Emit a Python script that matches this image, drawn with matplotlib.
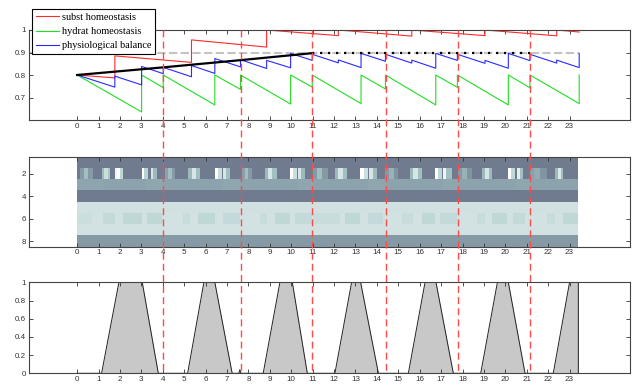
import matplotlib
matplotlib.use('Agg')
import matplotlib.pyplot as plt
import matplotlib.transforms as mtransforms
from matplotlib.lines import Line2D

# ---- top panel: homeostasis traces (sawtooth vertices)
subst_t = [0, 1.76, 1.76, 5.34, 5.34, 8.85, 8.85, 12.2, 12.2, 15.63, 15.63,
           19.05, 19.05, 22.4, 22.4, 23.45]
subst_v = [0.800, 0.787, 0.885, 0.856, 0.956, 0.924, 1.0, 0.975, 1.0, 0.973, 1.0,
           0.975, 1.0, 0.974, 1.0, 0.991]

hydrat_t = [0, 3.01, 3.01, 4.02, 4.02, 6.43, 6.43, 7.63, 7.63, 9.97, 9.97,
            10.98, 10.98, 13.26, 13.26, 14.40, 14.40, 16.75, 16.75, 17.76, 17.76,
            20.14, 20.14, 21.15, 21.15, 23.45, 23.45]
hydrat_v = [0.800, 0.636, 0.800, 0.744, 0.800, 0.667, 0.800, 0.736, 0.800, 0.671, 0.800,
            0.746, 0.800, 0.673, 0.800, 0.738, 0.800, 0.667, 0.800, 0.745, 0.800,
            0.667, 0.800, 0.743, 0.800, 0.673, 0.800]

balance_t = [0, 1.76, 1.76, 3.01, 3.01, 4.02, 4.02, 5.34, 5.34, 6.43, 6.43,
             7.63, 7.63, 8.85, 8.85, 9.97, 9.97, 10.98, 10.98, 12.2, 12.2,
             13.26, 13.26, 14.40, 14.40, 15.63, 15.63, 16.75, 16.75, 17.76, 17.76,
             19.05, 19.05, 20.14, 20.14, 21.15, 21.15, 22.4, 22.4, 23.45, 23.45]
balance_v = [0.800, 0.746, 0.795, 0.756, 0.838, 0.806, 0.834, 0.792, 0.842, 0.807, 0.873,
             0.836, 0.868, 0.829, 0.865, 0.832, 0.896, 0.865, 0.892, 0.854, 0.867,
             0.833, 0.896, 0.861, 0.892, 0.853, 0.866, 0.830, 0.896, 0.865, 0.892,
             0.852, 0.865, 0.830, 0.896, 0.864, 0.892, 0.853, 0.866, 0.833, 0.896]

# black target curve, then its dotted hold
target_t = [0, 4.02, 7.63, 10.98]
target_v = [0.800, 0.834, 0.866, 0.897]
hold_t = [10.98, 21.15]
hold_v = [0.897, 0.897]

# grey dashed set point
setpoint_t = [-2.25, 23.45]
setpoint_v = [0.897, 0.897]

# red dashed event markers (span all three panels)
event_x = [4.02, 7.63, 10.98, 14.43, 17.78, 21.15]

# ---- middle panel: 8-row heat strip (bone colormap values)
heat_end = 23.41
row_base = [0.50, 0.50, 0.625, 0.50, 0.865, 0.87, 0.87, 0.60]
row2_patches = [
    (0.13, 0.30, 0.60), (0.30, 0.50, 0.72), (0.50, 0.73, 0.60),
    (1.14, 1.25, 0.70), (1.25, 1.42, 0.85), (1.42, 1.53, 0.75),
    (1.76, 1.84, 0.95), (1.84, 2.00, 1.00), (2.00, 2.15, 0.82),
    (3.01, 3.14, 1.00), (3.14, 3.32, 0.80),
    (3.44, 3.56, 0.88), (3.56, 3.71, 0.70),
    (4.10, 4.25, 0.62), (4.25, 4.42, 0.72), (4.42, 4.56, 0.60),
    (5.19, 5.35, 0.70), (5.35, 5.55, 0.88), (5.55, 5.73, 0.72),
    (6.43, 6.58, 1.00), (6.58, 6.75, 0.85),
    (6.82, 6.95, 0.88), (6.95, 7.13, 0.72),
    (7.68, 7.85, 0.62), (7.85, 8.00, 0.72), (8.00, 8.15, 0.60),
    (8.77, 8.92, 0.70), (8.92, 9.12, 0.88), (9.12, 9.32, 0.72),
    (9.94, 10.08, 1.00), (10.08, 10.25, 0.85),
    (10.30, 10.45, 0.88), (10.45, 10.64, 0.70),
    (11.03, 11.20, 0.60), (11.20, 11.45, 0.72), (11.45, 11.73, 0.60),
    (12.04, 12.20, 0.70), (12.20, 12.42, 0.88), (12.42, 12.59, 0.72),
    (13.21, 13.40, 1.00), (13.40, 13.60, 0.85),
    (13.64, 13.80, 0.88), (13.80, 13.99, 0.70),
    (14.38, 14.55, 0.60), (14.55, 14.80, 0.68), (14.80, 15.00, 0.58),
    (15.55, 15.70, 0.70), (15.70, 15.92, 0.88), (15.92, 16.09, 0.72),
    (16.71, 16.86, 1.00), (16.86, 17.03, 0.82),
    (17.10, 17.25, 0.95), (17.25, 17.50, 0.72),
    (17.80, 17.98, 0.60), (17.98, 18.20, 0.68), (18.20, 18.43, 0.58),
    (18.90, 19.05, 0.70), (19.05, 19.22, 0.88), (19.22, 19.36, 0.70),
    (20.11, 20.27, 1.00), (20.27, 20.45, 0.82),
    (20.53, 20.68, 0.92), (20.68, 20.84, 0.72),
    (21.15, 21.35, 0.62), (21.35, 21.60, 0.66), (21.60, 21.93, 0.58),
    (22.32, 22.48, 0.70), (22.48, 22.60, 0.90), (22.60, 22.71, 0.72),
]
row3_patches = [
    (0.00, 1.20, 0.635), (3.20, 4.00, 0.64), (6.80, 7.60, 0.64), (10.30, 11.00, 0.64),
    (13.60, 14.40, 0.64), (17.10, 17.80, 0.64), (20.50, 21.15, 0.64),
]
row6_patches = [
    (0.05, 0.67, 0.85), (1.21, 1.76, 0.83), (2.15, 3.01, 0.82), (3.24, 3.94, 0.82),
    (4.95, 5.27, 0.84), (5.65, 6.43, 0.82), (6.82, 7.60, 0.83), (8.54, 8.85, 0.84),
    (9.24, 9.94, 0.82), (10.17, 10.95, 0.83), (11.03, 11.80, 0.84), (11.80, 12.28, 0.84),
    (12.51, 13.21, 0.82), (13.60, 14.30, 0.83), (15.16, 15.70, 0.84), (16.09, 16.71, 0.82),
    (16.95, 17.73, 0.83), (18.66, 19.05, 0.84), (19.36, 20.07, 0.82), (20.37, 20.92, 0.83),
    (21.93, 22.32, 0.84), (22.71, 23.41, 0.82),
]
row_patches = {2: row2_patches, 3: row3_patches, 6: row6_patches}

# ---- bottom panel: intake profile
intake_x = [0, 1.14, 1.95, 3.04, 3.79, 5.16, 5.92, 6.43, 7.24, 7.55, 7.6, 7.65,
            8.69, 9.47, 10.05, 10.75, 12.04, 12.82, 13.24, 14.07, 15.47, 16.25,
            16.76, 17.57, 18.85, 19.63, 20.14, 20.92, 22.24, 23.0, 23.41, 23.41]
intake_y = [0, 0, 1, 1, 0, 0, 1, 1, 0, 0, 0.04, 0,
            0, 1, 1, 0, 0, 1, 1, 0, 0, 1,
            1, 0, 0, 1, 1, 0, 0, 1, 1, 0]

x_ticks = list(range(0, 24))
x_range = (-2.25, 25.8)


def row_edges(patches, base, x_end):
    edges = [0.0]
    vals = []
    for x0, x1, v in patches:
        if x0 > edges[-1]:
            vals.append(base)
            edges.append(x0)
        vals.append(v)
        edges.append(x1)
    if edges[-1] < x_end:
        vals.append(base)
        edges.append(x_end)
    return edges, vals


def style_axes(ax):
    ax.set_xlim(*x_range)
    ax.set_xticks(x_ticks)
    ax.tick_params(direction='in', length=3, width=0.6, top=True, right=True,
                   labelsize=5.8, pad=2, colors='#333333')
    for sp in ax.spines.values():
        sp.set_color('#444444')
        sp.set_linewidth(0.8)


plt.rcParams['font.family'] = ['Liberation Sans', 'DejaVu Sans']

W, H = 636, 385
fig = plt.figure(figsize=(W / 100, H / 100), dpi=100)
left = 29 / W
width = 600.5 / W
ax1 = fig.add_axes([left, 1 - 120 / H, width, 90 / H])
ax2 = fig.add_axes([left, 1 - 246.7 / H, width, 90 / H])
ax3 = fig.add_axes([left, 1 - 373.3 / H, width, 91 / H])

# top panel
ax1.plot(setpoint_t, setpoint_v, color='#c4c4c4', lw=1.5, dashes=(4, 1.6), zorder=1)
l_sub, = ax1.plot(subst_t, subst_v, color='#ff2a2a', lw=0.8, zorder=2)
l_hyd, = ax1.plot(hydrat_t, hydrat_v, color='#22dd22', lw=0.8, zorder=2)
l_bal, = ax1.plot(balance_t, balance_v, color='#2a2aff', lw=0.8, zorder=2)
ax1.plot(target_t, target_v, color='black', lw=1.6, zorder=3)
ax1.plot(hold_t, hold_v, color='black', lw=1.6, dashes=(1, 2.6), zorder=3)
style_axes(ax1)
ax1.set_ylim(0.6, 1.0)
ax1.set_yticks([0.7, 0.8, 0.9, 1.0])
ax1.set_yticklabels(['0.7', '0.8', '0.9', '1'])
leg = ax1.legend([l_sub, l_hyd, l_bal],
                 ['subst homeostasis', 'hydrat homeostasis', 'physiological balance'],
                 loc='upper left', bbox_to_anchor=(32 / W, 1 - 9 / H),
                 bbox_transform=fig.transFigure, borderaxespad=0,
                 prop={'family': 'Liberation Serif', 'size': 7.4},
                 fancybox=False, framealpha=1, edgecolor='black',
                 handlelength=2.3, handletextpad=0.3, labelspacing=0.5,
                 borderpad=0.35)
leg.get_frame().set_linewidth(0.8)
leg.set_zorder(10)

# middle panel
cmap = plt.get_cmap('bone')
for r in range(1, 9):
    edges, vals = row_edges(row_patches.get(r, []), row_base[r - 1], heat_end)
    ax2.pcolormesh(edges, [r - 0.5, r + 0.5], [vals], cmap=cmap, vmin=0, vmax=1,
                   shading='flat', edgecolors='none', antialiased=False)
style_axes(ax2)
ax2.set_ylim(8.5, 0.5)
ax2.set_yticks([2, 4, 6, 8])

# bottom panel
ax3.fill_between(intake_x, intake_y, 0, color='#c8c8c8', lw=0)
ax3.plot(intake_x, intake_y, color='#222222', lw=0.7)
style_axes(ax3)
ax3.set_ylim(0, 1)
ax3.set_yticks([0, 0.2, 0.4, 0.6, 0.8, 1.0])
ax3.set_yticklabels(['0', '0.2', '0.4', '0.6', '0.8', '1'])

# red dashed event lines spanning the whole figure stack
trans = mtransforms.blended_transform_factory(ax1.transData, fig.transFigure)
for ex in event_x:
    ln = Line2D([ex, ex], [1 - 30 / H, 1 - 373.3 / H], transform=trans,
                color='#ff4a4a', lw=1.0, dashes=(5, 3), zorder=20)
    fig.add_artist(ln)

fig.savefig('out.png', dpi=100)
